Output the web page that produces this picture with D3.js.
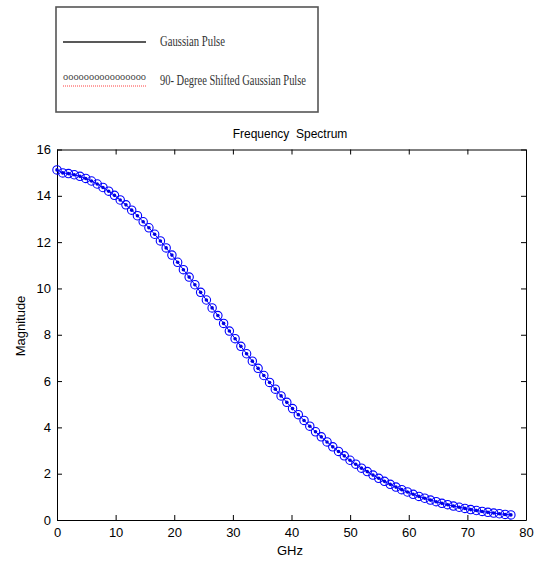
<!DOCTYPE html>
<html>
<head>
<meta charset="utf-8">
<script src="https://cdn.jsdelivr.net/npm/d3@7/dist/d3.min.js"></script>
<style>
  body { margin: 0; background: #fff; }
  svg { display: block; }
</style>
</head>
<body>
<div id="canvas"></div>
<script>
// frequency samples (GHz): one marker roughly every 0.98 GHz
var freqs = [0, 0.98, 1.96, 2.94, 3.92, 4.9, 5.88, 6.86, 7.84, 8.82, 9.8, 10.78, 11.76, 12.74, 13.72,
  14.7, 15.68, 16.66, 17.64, 18.62, 19.6, 20.58, 21.56, 22.54, 23.52, 24.5, 25.48, 26.46, 27.44, 28.42,
  29.4, 30.38, 31.36, 32.34, 33.32, 34.3, 35.28, 36.26, 37.24, 38.22, 39.2, 40.18, 41.16, 42.14, 43.12,
  44.1, 45.08, 46.06, 47.04, 48.02, 49, 49.98, 50.96, 51.94, 52.92, 53.9, 54.88, 55.86, 56.84, 57.82,
  58.8, 59.78, 60.76, 61.74, 62.72, 63.7, 64.68, 65.66, 66.64, 67.62, 68.6, 69.58, 70.56, 71.54, 72.52,
  73.5, 74.48, 75.46, 76.44, 77.42]

// Gaussian pulse magnitude
var gaussMag = [15.12, 14.99, 14.96, 14.91, 14.84, 14.75, 14.64, 14.51, 14.36, 14.20, 14.02, 13.82, 13.61,
  13.38, 13.14, 12.88, 12.62, 12.34, 12.05, 11.75, 11.44, 11.13, 10.81, 10.49, 10.16, 9.83, 9.50, 9.16,
  8.83, 8.49, 8.16, 7.83, 7.50, 7.18, 6.86, 6.55, 6.24, 5.94, 5.65, 5.36, 5.08, 4.81, 4.55, 4.30, 4.05,
  3.81, 3.59, 3.37, 3.16, 2.96, 2.77, 2.58, 2.41, 2.24, 2.09, 1.94, 1.80, 1.67, 1.54, 1.42, 1.31, 1.21,
  1.11, 1.02, 0.94, 0.86, 0.79, 0.72, 0.66, 0.60, 0.55, 0.50, 0.45, 0.41, 0.37, 0.33, 0.30, 0.27, 0.24, 0.22]

// the shifted pulse has the same magnitude spectrum
var shiftedMag = gaussMag.slice()

var xTicks = [0, 10, 20, 30, 40, 50, 60, 70, 80]
var yTicks = [0, 2, 4, 6, 8, 10, 12, 14, 16]

var legendLabels = ['Gaussian Pulse', '90- Degree Shifted Gaussian Pulse']

;(function () {
  var W = 544, H = 562
  var box = {left: 57, right: 526, top: 149.5, bottom: 520}

  var svg = d3.select('#canvas').append('svg')
    .attr('width', W)
    .attr('height', H)

  // ---- legend (looks like a pasted image, text squeezed horizontally)
  var lg = svg.append('g')
  lg.append('rect')
    .attr('x', 56).attr('y', 7)
    .attr('width', 262).attr('height', 105)
    .attr('fill', '#fff')
    .attr('stroke', '#555')
    .attr('stroke-width', 1.6)
  lg.append('line')
    .attr('x1', 63).attr('x2', 146)
    .attr('y1', 42).attr('y2', 42)
    .attr('stroke', '#222')
    .attr('stroke-width', 1.6)
  lg.append('text')
    .text('oooooooooooooooo')
    .attr('x', 63).attr('y', 80)
    .attr('font-family', 'Liberation Serif')
    .attr('font-size', '11px')
    .attr('fill', '#444')
    .attr('textLength', 83)
    .attr('lengthAdjust', 'spacingAndGlyphs')
  lg.append('line')
    .attr('x1', 63).attr('x2', 146)
    .attr('y1', 86).attr('y2', 86)
    .attr('stroke', '#ff4040')
    .attr('stroke-width', 1)
    .attr('stroke-dasharray', '1,1')
  lg.selectAll('text.lab')
    .data(legendLabels)
    .enter().append('text')
    .attr('class', 'lab')
    .text(function (d) { return d })
    .attr('x', 160)
    .attr('y', function (d, i) { return i === 0 ? 46 : 85 })
    .attr('font-family', 'Liberation Serif')
    .attr('font-size', '15px')
    .attr('fill', '#333')
    .attr('textLength', function (d, i) { return i === 0 ? 65 : 146 })
    .attr('lengthAdjust', 'spacingAndGlyphs')

  // ---- scales
  var x = d3.scaleLinear().domain([0, 80]).range([box.left, box.right])
  var y = d3.scaleLinear().domain([0, 16]).range([box.bottom, box.top])

  var font = 'Liberation Sans, Arial, sans-serif'

  // ---- axes, MATLAB style: ticks inward on all four sides
  var axB = svg.append('g').attr('transform', 'translate(0,' + box.bottom + ')')
    .call(d3.axisBottom(x).tickValues(xTicks).tickSizeInner(-5).tickSizeOuter(0).tickPadding(8))
  var axT = svg.append('g').attr('transform', 'translate(0,' + box.top + ')')
    .call(d3.axisTop(x).tickValues(xTicks).tickSizeInner(-5).tickSizeOuter(0).tickFormat(''))
  var axL = svg.append('g').attr('transform', 'translate(' + box.left + ',0)')
    .call(d3.axisLeft(y).tickValues(yTicks).tickSizeInner(-5).tickSizeOuter(0).tickPadding(6))
  var axR = svg.append('g').attr('transform', 'translate(' + box.right + ',0)')
    .call(d3.axisRight(y).tickValues(yTicks).tickSizeInner(-5).tickSizeOuter(0).tickFormat(''))

  ;[axB, axT, axL, axR].forEach(function (a) {
    a.select('.domain').attr('stroke', '#000')
    a.selectAll('.tick line').attr('stroke', '#000')
    a.selectAll('text')
      .attr('font-family', font)
      .attr('font-size', '13px')
      .attr('fill', '#000')
  })

  // ---- titles
  svg.append('text')
    .text('Frequency  Spectrum')
    .attr('x', 290).attr('y', 138)
    .attr('text-anchor', 'middle')
    .attr('font-family', font)
    .attr('font-size', '12px')
    .style('white-space', 'pre')
  svg.append('text')
    .text('GHz')
    .attr('x', 290).attr('y', 555)
    .attr('text-anchor', 'middle')
    .attr('font-family', font)
    .attr('font-size', '13px')
  svg.append('text')
    .text('Magnitude')
    .attr('transform', 'translate(25,326) rotate(-90)')
    .attr('text-anchor', 'middle')
    .attr('font-family', font)
    .attr('font-size', '13px')

  // ---- data
  var pts = freqs.map(function (f, i) { return {f: f, g: gaussMag[i], s: shiftedMag[i]} })

  svg.append('path')
    .datum(pts)
    .attr('fill', 'none')
    .attr('stroke', '#0000ff')
    .attr('stroke-width', 1)
    .attr('d', d3.line().x(function (d) { return x(d.f) }).y(function (d) { return y(d.g) }))

  svg.selectAll('circle.dot')
    .data(pts)
    .enter().append('circle')
    .attr('class', 'dot')
    .attr('cx', function (d) { return x(d.f) })
    .attr('cy', function (d) { return y(d.g) })
    .attr('r', 1.8)
    .attr('fill', '#0000e0')

  svg.selectAll('circle.ring')
    .data(pts)
    .enter().append('circle')
    .attr('class', 'ring')
    .attr('cx', function (d) { return x(d.f) })
    .attr('cy', function (d) { return y(d.s) })
    .attr('r', 4.2)
    .attr('fill', 'none')
    .attr('stroke', '#0000ff')
    .attr('stroke-width', 1.1)
})()
</script>
</body>
</html>
